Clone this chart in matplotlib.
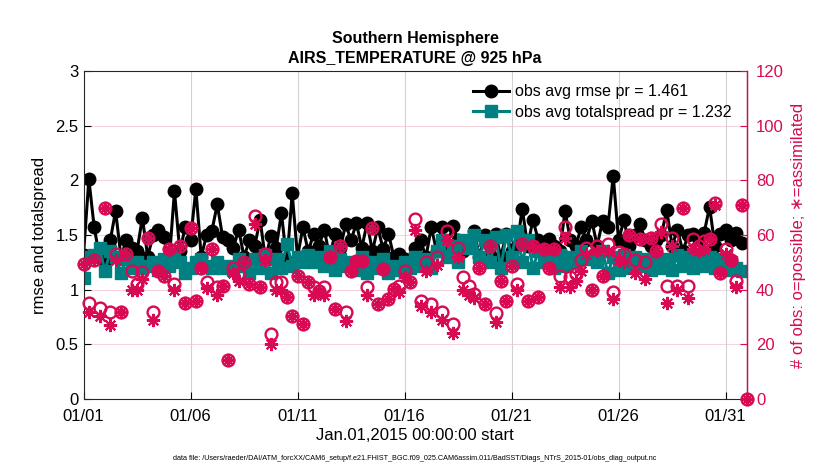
import numpy as np
import pandas as pd
import matplotlib
matplotlib.use('Agg')
import matplotlib.pyplot as plt
import matplotlib.dates as mdates

plt.rcParams['font.family'] = ['Liberation Sans Narrow', 'Liberation Sans', 'DejaVu Sans']

# 6-hourly bins, Jan 1 00Z .. Feb 1 00Z
times = pd.date_range('2015-01-01', periods=125, freq='6h')

rmse = [1.32, 2.01, 1.57, 1.30, 1.25, 1.45, 1.72, 1.30, 1.45, 1.38,
        1.35, 1.66, 1.30, 1.50, 1.55, 1.48, 1.25, 1.90, 1.35, 1.57,
        1.45, 1.92, 1.30, 1.50, 1.54, 1.78, 1.48, 1.45, 1.38, 1.55,
        1.30, 1.45, 1.40, 1.64, 1.28, 1.49, 1.38, 1.70, 1.25, 1.88,
        1.30, 1.57, 1.35, 1.51, 1.40, 1.55, 1.30, 1.51, 1.38, 1.60,
        1.45, 1.61, 1.38, 1.61, 1.35, 1.57, 1.37, 1.51, 1.30, 1.33,
        1.28, 1.25, 1.38, 1.45, 1.30, 1.57, 1.35, 1.57, 1.40, 1.58,
        1.45, 1.35, 1.42, 1.54, 1.30, 1.50, 1.32, 1.51, 1.30, 1.51,
        1.35, 1.40, 1.74, 1.40, 1.64, 1.45, 1.35, 1.46, 1.40, 1.35,
        1.72, 1.45, 1.40, 1.57, 1.45, 1.63, 1.40, 1.63, 1.57, 2.04,
        1.45, 1.64, 1.40, 1.50, 1.60, 1.45, 1.40, 1.45, 1.50, 1.73,
        1.40, 1.55, 1.35, 1.50, 1.51, 1.45, 1.52, 1.76, 1.40, 1.51,
        1.55, 1.45, 1.52, 1.43, np.nan]

spread = [1.11, 1.30, 1.32, 1.38, 1.17, 1.35, 1.30, 1.15, 1.28, 1.20,
          1.25, 1.20, 1.22, 1.25, 1.18, 1.28, 1.22, 1.30, 1.25, 1.15,
          1.20, 1.25, 1.28, 1.22, 1.20, 1.25, 1.20, 1.22, 1.18, 1.28,
          1.22, 1.15, 1.28, 1.20, 1.32, 1.15, 1.28, 1.20, 1.42, 1.22,
          1.30, 1.25, 1.32, 1.25, 1.30, 1.22, 1.35, 1.18, 1.28, 1.22,
          1.25, 1.18, 1.30, 1.15, 1.25, 1.20, 1.28, 1.15, 1.22, 1.18,
          1.25, 1.20, 1.30, 1.22, 1.28, 1.20, 1.35, 1.45, 1.30, 1.40,
          1.25, 1.45, 1.38, 1.50, 1.30, 1.45, 1.25, 1.48, 1.20, 1.50,
          1.30, 1.54, 1.25, 1.45, 1.20, 1.35, 1.25, 1.30, 1.20, 1.32,
          1.22, 1.30, 1.25, 1.35, 1.28, 1.30, 1.25, 1.35, 1.15, 1.30,
          1.18, 1.32, 1.20, 1.30, 1.22, 1.28, 1.18, 1.30, 1.20, 1.28,
          1.18, 1.32, 1.22, 1.30, 1.20, 1.28, 1.22, 1.30, 1.20, 1.28,
          1.18, 1.25, 1.20, 1.17, np.nan]

possible = [49.3, 35.0, 51.0, 33.3, 69.7, 31.8, 53.2, 31.8, 53.0, 46.9,
            42.0, 46.3, 58.8, 31.8, 46.9, 45.0, 55.0, 42.0, 56.0, 35.0,
            62.7, 35.8, 48.0, 42.7, 54.8, 40.8, 41.5, 14.2, 48.0, 45.7,
            50.0, 42.0, 67.0, 40.8, 53.0, 23.6, 42.7, 42.7, 37.2, 30.2,
            45.0, 27.3, 42.7, 40.8, 39.6, 40.8, 52.0, 33.0, 56.0, 31.8,
            47.0, 50.5, 50.5, 40.8, 62.7, 34.8, 47.5, 36.6, 40.2, 41.5,
            47.0, 42.7, 65.7, 36.0, 50.0, 34.8, 51.8, 31.8, 61.5, 27.3,
            55.4, 44.5, 41.5, 38.4, 48.0, 34.8, 56.0, 31.4, 43.0, 36.0,
            48.7, 42.0, 56.8, 36.0, 56.0, 37.2, 54.8, 48.0, 54.8, 45.0,
            63.0, 44.5, 45.7, 51.0, 55.4, 39.9, 56.0, 45.0, 56.6, 39.0,
            53.6, 53.0, 60.0, 51.0, 58.4, 50.2, 58.8, 54.2, 64.0, 41.2,
            59.0, 41.2, 69.7, 41.2, 58.4, 56.0, 57.8, 58.4, 71.8, 46.0,
            55.0, 50.8, 43.0, 71.0, 0.0]

assimilated = [49.3, 31.7, 51.0, 30.4, 69.7, 27.2, 51.0, 31.8, 53.0, 40.0,
               40.0, 44.0, 58.8, 28.9, 46.9, 45.0, 55.0, 40.0, 56.0, 35.0,
               62.7, 35.8, 48.0, 40.5, 54.8, 38.0, 41.5, 14.2, 46.0, 43.0,
               50.0, 42.0, 64.0, 40.8, 51.0, 20.0, 40.0, 40.0, 37.2, 30.2,
               45.0, 27.3, 42.7, 38.0, 39.6, 38.0, 52.0, 33.0, 56.0, 28.5,
               47.0, 50.5, 50.5, 38.0, 62.7, 34.8, 47.5, 36.6, 40.2, 39.0,
               44.5, 42.7, 62.0, 34.0, 47.0, 32.0, 49.0, 29.0, 58.0, 24.0,
               52.0, 40.0, 38.0, 37.0, 48.0, 34.8, 56.0, 28.0, 43.0, 36.0,
               48.7, 40.0, 56.8, 36.0, 56.0, 37.2, 54.8, 48.0, 54.8, 41.0,
               59.0, 41.0, 43.0, 47.0, 53.0, 39.9, 54.0, 45.0, 54.0, 36.5,
               51.0, 50.0, 60.0, 46.0, 58.4, 44.0, 58.8, 54.2, 61.0, 35.0,
               56.0, 40.0, 69.7, 37.0, 55.0, 54.0, 55.0, 58.4, 71.0, 46.0,
               53.0, 50.8, 41.0, 71.0, 0.0]

tick_days = pd.date_range('2015-01-01', '2015-01-31', freq='5D')

crimson = '#D70A53'
teal = '#008080'

fig = plt.figure(figsize=(8.3, 4.7), dpi=100)
ax = fig.add_axes([83.5 / 830, 71 / 470, 663.5 / 830, 328 / 470])
ax2 = ax.twinx()

# grid on the main axes so it stays under the data
for y in np.arange(0.5, 3.0, 0.5):
    ax.axhline(y, color=crimson, alpha=0.18, lw=0.8, zorder=0)
for t in tick_days:
    ax.axvline(t, color='0.82', lw=0.8, zorder=0)

l1, = ax.plot(times, rmse, '-o', color='black', lw=2.2, ms=9, mfc='black',
              label='obs avg rmse pr = 1.461')
l2, = ax.plot(times, spread, '-s', color=teal, lw=2.2, ms=8.5, mfc=teal,
              label='obs avg totalspread pr = 1.232')

ax2.plot(times, possible, 'o', mfc='none', mec=crimson, mew=1.7, ms=8.5, clip_on=False)
ax2.plot(times, assimilated, ls='none', marker=(8, 2, 0), color=crimson, mew=1.5,
         ms=9.5, clip_on=False)

ax.set_xlim(times[0], times[-1])
ax.set_ylim(0, 3)
ax.set_yticks(np.arange(0, 3.01, 0.5))
ax.set_yticklabels(['0', '0.5', '1', '1.5', '2', '2.5', '3'])
ax2.set_ylim(0, 120)
ax2.set_yticks(np.arange(0, 121, 20))

ax.set_xticks(tick_days)
ax.xaxis.set_major_formatter(mdates.DateFormatter('%m/%d'))

ax.tick_params(direction='in', labelsize=12, length=5, width=0.8, top=False)
ax.tick_params(axis='x', pad=7)
ax2.tick_params(direction='in', labelsize=12, length=5, width=0.8, colors=crimson, pad=6.5)
for s in ['left', 'bottom', 'top']:
    ax.spines[s].set_color('#262626')
ax2.spines['right'].set_color(crimson)
ax2.spines['right'].set_linewidth(1.0)
for s in ['left', 'top', 'bottom']:
    ax2.spines[s].set_visible(False)

ax.set_ylabel('rmse and totalspread', fontsize=12, labelpad=6)
ax2.set_ylabel('# of obs: o=possible; \u2217=assimilated', fontsize=12, color=crimson,
               labelpad=5)
ax.set_xlabel('Jan.01,2015 00:00:00 start', fontsize=12, labelpad=3)
ax.set_title('Southern Hemisphere\nAIRS_TEMPERATURE @ 925 hPa', fontsize=11.5,
             fontweight='bold', pad=6, linespacing=1.35)

leg = fig.legend(handles=[l1, l2], loc='upper left', bbox_to_anchor=(467 / 830, 1 - 78 / 470),
                 frameon=False, fontsize=11.5, handlelength=2.2, handletextpad=0.4,
                 labelspacing=0.35, borderaxespad=0)

fig.text(0.5, 1 - 458 / 470,
         'data file: /Users/raeder/DAI/ATM_forcXX/CAM6_setup/f.e21.FHIST_BGC.f09_025.'
         'CAM6assim.011/BadSST/Diags_NTrS_2015-01/obs_diag_output.nc',
         ha='center', va='center', fontsize=5.2)

fig.savefig('out.png', dpi=100)
